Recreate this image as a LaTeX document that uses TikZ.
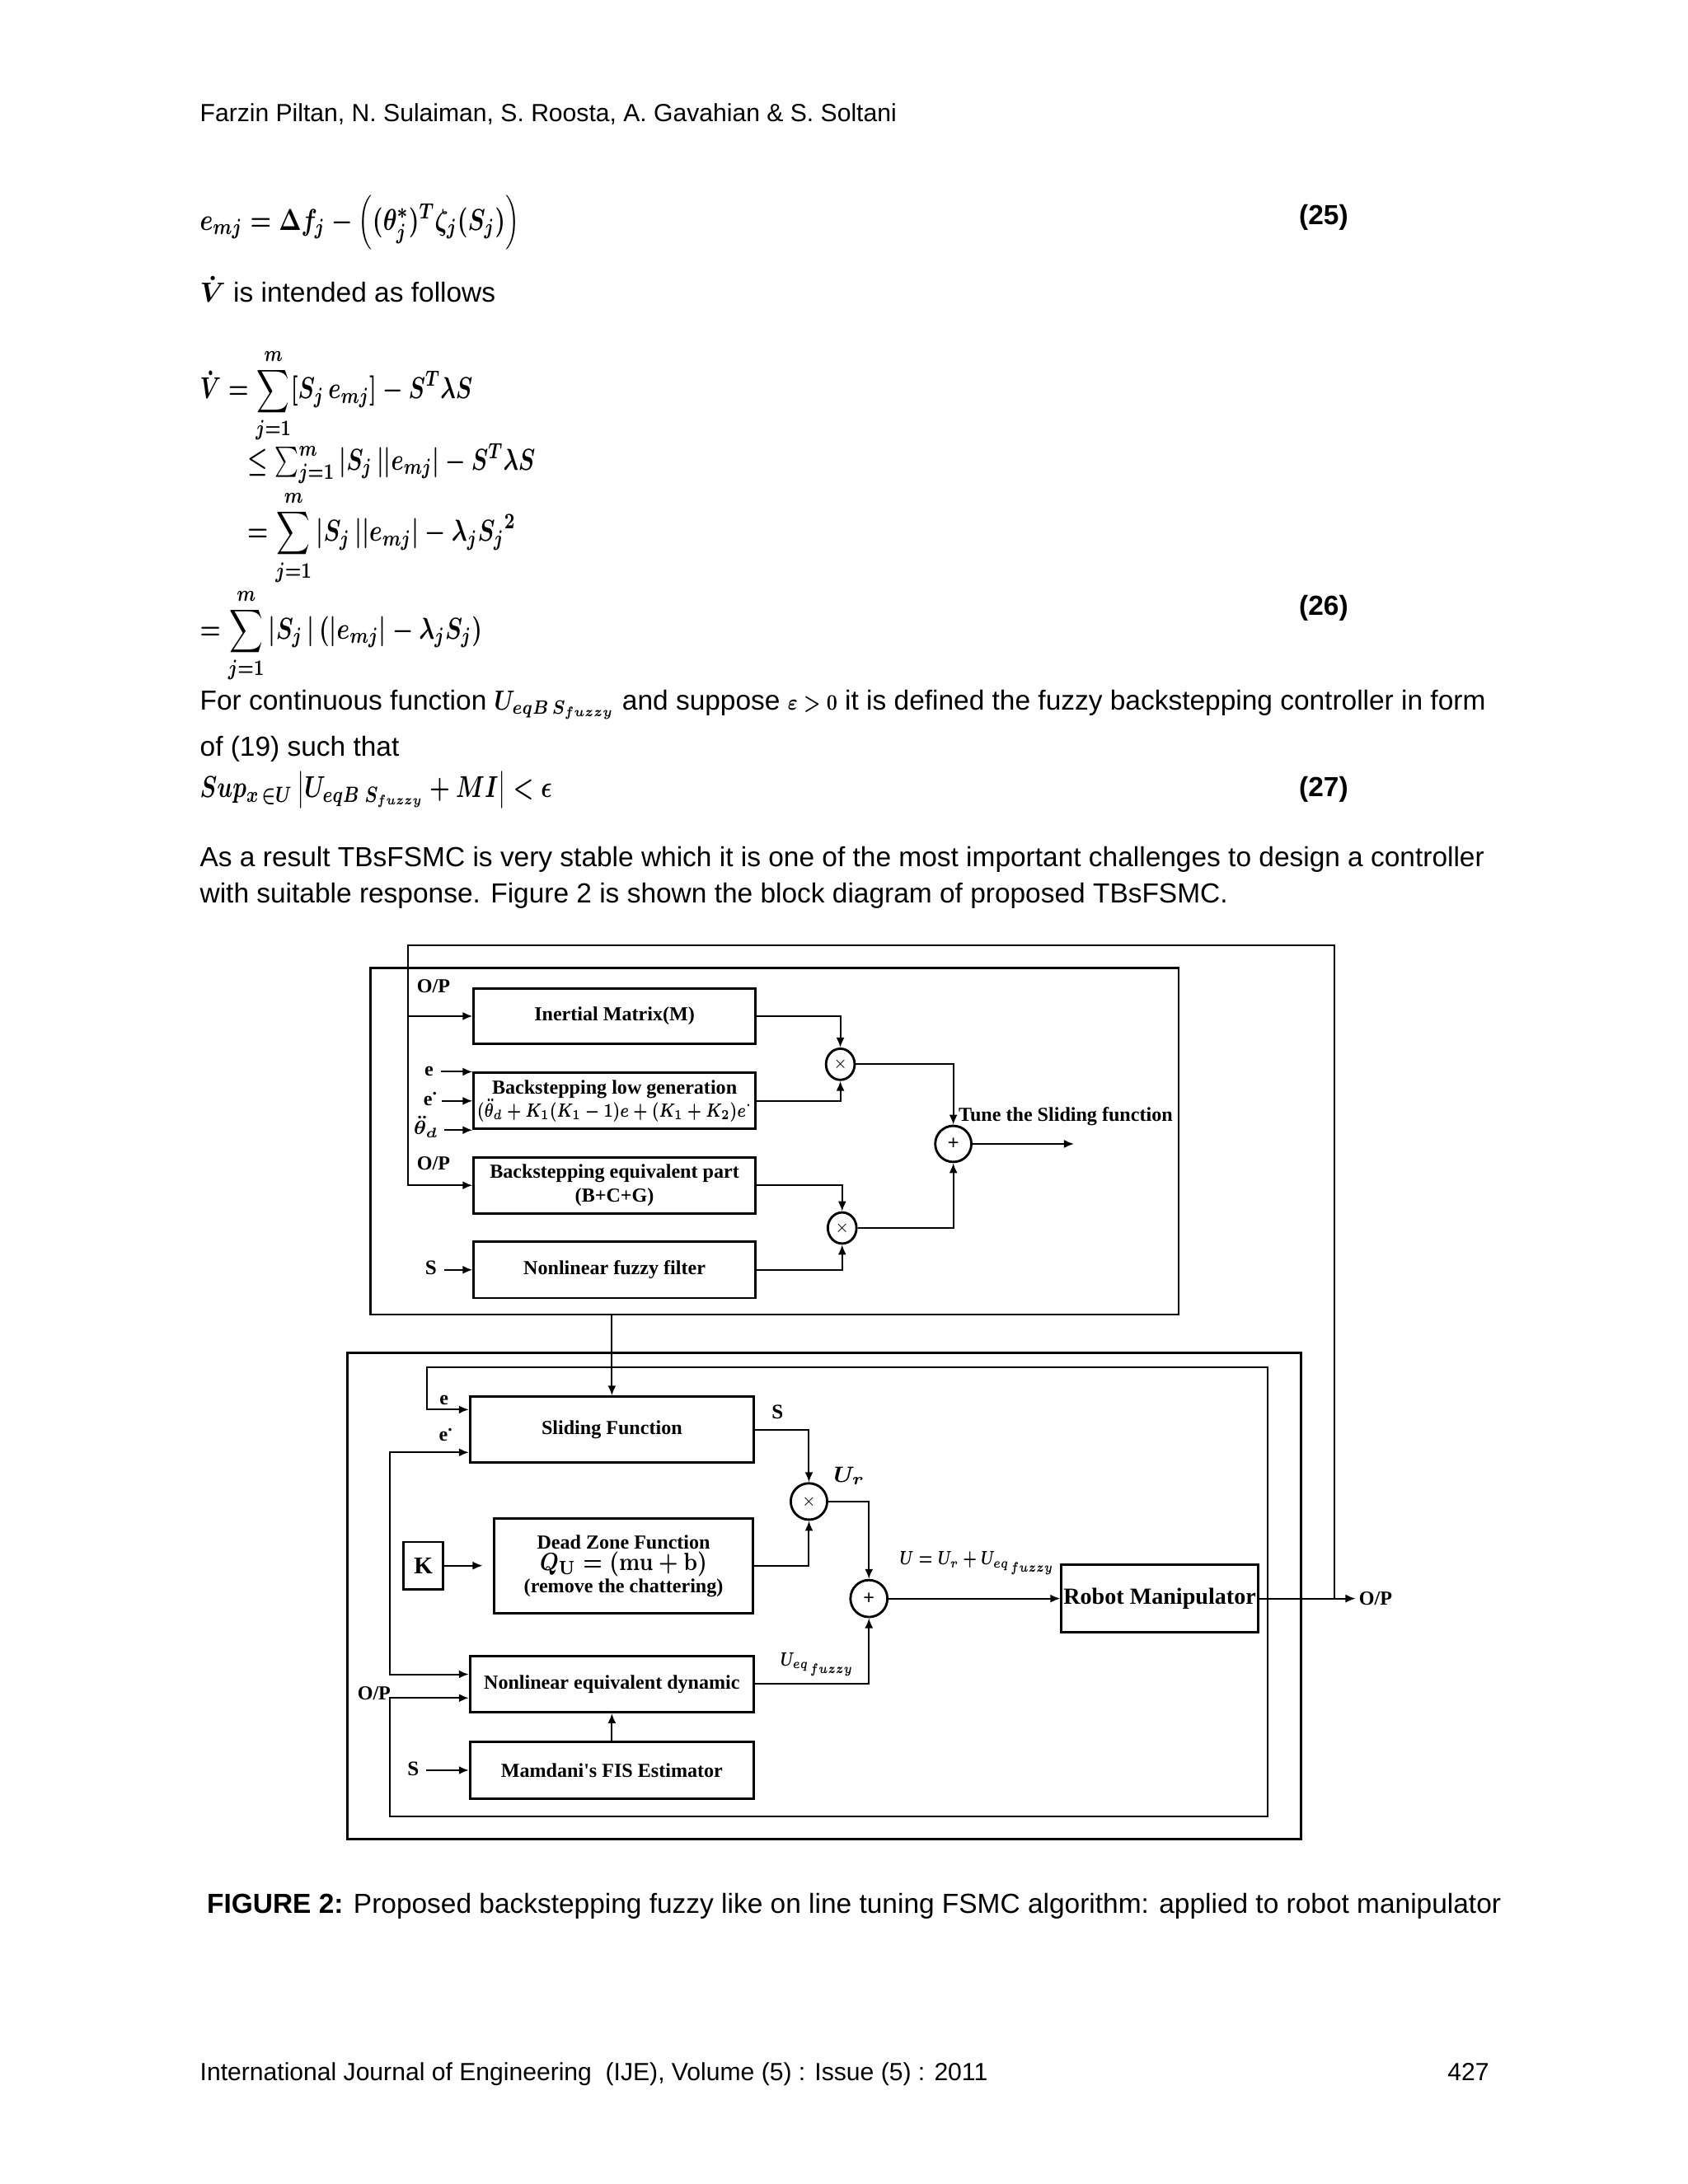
\documentclass[tikz,border=0pt]{standalone}
\usepackage{amsmath}
\usepackage[no-math]{fontspec}
\setmainfont{Liberation Sans}
\newfontfamily\tnr{Liberation Serif}
\usetikzlibrary{arrows.meta,shapes.geometric,calc}
\newcommand{\dgfont}{\fontsize{7.2}{8.9}\selectfont\tnr\bfseries}
\newcommand{\edot}{e\raisebox{1.1ex}{\scalebox{0.9}{.}}}
\newcommand{\eqA}{\scalebox{0.78}[1]{\boldmath$e_{mj} = \Delta f_j - \left((\theta_j^{*})^{T}\zeta_j(S_j)\right)$}}
\newcommand{\eqVt}{{\boldmath$\dot{V}$} is intended as follows}
\newcommand{\eqB}{\scalebox{0.75}[1]{\boldmath$\displaystyle \dot{V} = \sum_{j=1}^{m}[S_j\,e_{mj}] - S^{T}\lambda S$}}
\newcommand{\eqC}{\scalebox{0.75}[1]{\boldmath$\le \sum_{j=1}^{m}|S_j\,||e_{mj}| - S^{T}\lambda S$}}
\newcommand{\eqD}{\scalebox{0.77}[1]{\boldmath$\displaystyle = \sum_{j=1}^{m}|S_j\,||e_{mj}| - \lambda_j {S_j}^{2}$}}
\newcommand{\eqE}{\scalebox{0.77}[1]{\boldmath$\displaystyle = \sum_{j=1}^{m}|S_j\,|\left(|e_{mj}| - \lambda_j S_j\right)$}}
\newcommand{\parA}{For continuous function \scalebox{0.82}[1]{\boldmath$U_{eqB\,S_{fuzzy}}$} and suppose \scalebox{0.8}[1]{\fontsize{8.5}{10}\selectfont\boldmath$\varepsilon > 0$} it is defined the fuzzy backstepping controller in form}
\newcommand{\eqF}{\scalebox{0.76}[1]{\boldmath$Sup_{x\,\in U}\left|U_{eqB\;S_{fuzzy}} + MI\right| < \epsilon$}}
\newcommand{\lowgenF}{\scalebox{0.74}[1]{\fontsize{7.5}{8}\selectfont\boldmath$(\ddot{\theta}_d + K_1(K_1-1)e + (K_1+K_2)e^{\cdot}$}}
\newcommand{\thetaD}{{\boldmath$\ddot{\theta}_d$}}
\newcommand{\quF}{\scalebox{0.85}[1]{\fontsize{9.5}{10}\selectfont\boldmath$Q_{\mathrm{U}} = (\mathbf{mu} + \mathbf{b})$}}
\newcommand{\urF}{{\boldmath$U_r$}}
\newcommand{\uF}{\scalebox{0.72}[1]{\fontsize{7}{8}\selectfont\boldmath$U = U_r + U_{eq_{\,fuzzy}}$}}
\newcommand{\ueqF}{\scalebox{0.72}[1]{\fontsize{7}{8}\selectfont\boldmath$U_{eq_{\,fuzzy}}$}}
\tikzset{
  boxnode/.style={draw, line width=0.85pt, font=\dgfont, align=center, inner sep=0pt},
  panelnode/.style={draw, line width=0.85pt, inner sep=0pt},
  conn/.style={line width=0.6pt},
  arr/.style={conn, -{Latex[length=3.6pt,width=3pt]}},
  arrs/.style={conn, {Latex[length=3.6pt,width=3pt]}-{Latex[length=3.6pt,width=3pt]}},
  multnode/.style={draw, ellipse, line width=0.85pt, inner sep=0pt},
  lblnode/.style={font=\dgfont, inner sep=0pt},
  bodytext/.style={font=\fontsize{10}{12}\selectfont, inner sep=0pt, anchor=base west},
  eqtext/.style={font=\fontsize{11}{13}\selectfont, inner sep=0pt, anchor=base west},
  eqnum/.style={font=\fontsize{10}{12}\selectfont\bfseries, inner sep=0pt, anchor=base east},
}
\begin{document}
\begin{tikzpicture}[x=0.50578pt, y=-0.50578pt]
\fill[white] (0,0) rectangle (1210,1566);
\useasboundingbox (0,0) rectangle (1210,1566);

% ---------------- page text ----------------
\node[anchor=base west, inner sep=0pt, font=\fontsize{9}{11}\selectfont] (hdr) at (143,87) {Farzin Piltan, N. Sulaiman, S. Roosta, A. Gavahian \& S. Soltani};

\node[eqtext] (eq25) at (143,165) {\eqA};
\node[eqnum] (n25) at (967,161) {(25)};

\node[bodytext] (vtext) at (143,216.5) {\eqVt};

\node[eqtext] (eq26a) at (143,286) {\eqB};
\node[eqtext] (eq26b) at (177,337) {\eqC};
\node[eqtext] (eq26c) at (177,388) {\eqD};
\node[eqtext] (eq26d) at (143,458) {\eqE};
\node[eqnum] (n26) at (967,441) {(26)};

\node[bodytext] (p1) at (143,509) {\parA};
\node[bodytext] (p2) at (143,542) {of (19) such that};
\node[eqtext] (eq27) at (143,572) {\eqF};
\node[eqnum] (n27) at (967,571) {(27)};

\node[bodytext] (p3) at (143,621.5) {As a result TBsFSMC is very stable which it is one of the most important challenges to design a controller};
\node[bodytext] (p4) at (143,647.5) {with suitable response. Figure 2 is shown the block diagram of proposed TBsFSMC.};

\node[bodytext] (cap) at (148,1372) {\textbf{FIGURE 2:} Proposed backstepping fuzzy like on line tuning FSMC algorithm: applied to robot manipulator};

\node[anchor=base west, inner sep=0pt, font=\fontsize{9}{11}\selectfont] (foot) at (143,1492) {International Journal of Engineering\ \ (IJE), Volume (5) : Issue (5) : 2011};
\node[anchor=base east, inner sep=0pt, font=\fontsize{9}{11}\selectfont] (pg) at (1068,1492) {427};

% ---------------- top panel ----------------
\node[panelnode, minimum width=293.15pt, minimum height=125.6pt] (toppanel) at (555.2,818.4) {};

\node[boxnode, minimum width=102.1pt, minimum height=20.2pt] (inertial) at (440.6,728.6) {Inertial Matrix(M)};
\node[boxnode, minimum width=102.1pt, minimum height=20.3pt] (lowgen) at (440.6,789.4) {Backstepping low generation\\[-0.6pt]\lowgenF};
\node[boxnode, minimum width=102.1pt, minimum height=20.4pt] (equiv) at (440.6,849.9) {Backstepping equivalent part\\(B+C+G)};
\node[boxnode, minimum width=102.1pt, minimum height=20.5pt] (fuzzy) at (440.6,910.5) {Nonlinear fuzzy filter};

\node[multnode, minimum width=10.4pt, minimum height=11.3pt] (m1) at (602.5,763.1) {\fontsize{5}{5}\selectfont$\times$};
\node[multnode, minimum width=10.4pt, minimum height=11.3pt] (m2) at (603.8,880.5) {\fontsize{5}{5}\selectfont$\times$};
\node[multnode, minimum width=13.1pt, minimum height=13.1pt] (s1) at (683.5,820.2) {\fontsize{7}{7}\selectfont +};

\node[lblnode, anchor=base west] (tune) at (687,804) {Tune the Sliding function};
\coordinate (tuneEnd) at (770,820.2);

\node[lblnode] (op1) at (310.8,707) {O/P};
\node[lblnode] (op2) at (310.8,834) {O/P};
\node[lblnode] (le) at (307.6,768) {e};
\node[lblnode] (lde) at (308.5,788) {\edot};
\node[lblnode] (lth) at (305.5,808) {\thetaD};
\node[lblnode, font=\fontsize{7.5}{8}\selectfont\tnr\bfseries] (lS1) at (309,909) {S};

\draw[arr, shorten <=2.5pt] (le.east |- lowgen.north west) -- (lowgen.north west);
\draw[arr, shorten <=1.5pt] (lde.east |- lowgen.west) -- (lowgen.west);
\draw[arr, shorten <=2pt] (lth.east |- lowgen.south west) -- (lowgen.south west);
\draw[arr, shorten <=2.5pt] (lS1.east |- fuzzy.west) -- (fuzzy.west);

\draw[arr] (inertial.east) -| (m1.north);
\draw[arr] (lowgen.east) -| (m1.south);
\draw[arr] (equiv.east) -| (m2.north);
\draw[arr] (fuzzy.east) -| (m2.south);
\draw[arr] (m1.east) -| (s1.north);
\draw[arr] (m2.east) -| (s1.south);
\draw[arr] (s1.east) -- (tuneEnd);

% ---------------- bottom panel ----------------
\node[panelnode, minimum width=345.8pt, minimum height=176.4pt] (botpanel) at (590.75,1144.2) {};

\node[boxnode, minimum width=102.9pt, minimum height=23.8pt] (sliding) at (438.7,1025) {Sliding Function};
\node[boxnode, minimum width=94pt, minimum height=34.5pt] (deadzone) at (447.1,1122.7) {Dead Zone Function\\[-1pt]\quF\\[-1pt](remove the chattering)};
\node[boxnode, minimum width=14.2pt, minimum height=17.2pt, font=\fontsize{8.7}{9}\selectfont\tnr\bfseries] (kbox) at (303.5,1122.6) {K};
\node[boxnode, minimum width=102.9pt, minimum height=20.4pt] (nleq) at (438.7,1207.5) {Nonlinear equivalent dynamic};
\node[boxnode, minimum width=102.9pt, minimum height=20.5pt] (mamdani) at (438.7,1269.3) {Mamdani's FIS Estimator};
\node[boxnode, minimum width=71.3pt, minimum height=24.4pt, font=\fontsize{8.4}{9}\selectfont\tnr\bfseries] (robot) at (831.5,1146.2) {Robot Manipulator};

\node[multnode, minimum width=13.2pt, minimum height=13.2pt] (m3) at (580,1076.6) {\fontsize{5}{5}\selectfont$\times$};
\node[multnode, minimum width=13.4pt, minimum height=13.4pt] (s2) at (623,1146.2) {\fontsize{7}{7}\selectfont +};

\node[lblnode, font=\fontsize{7.5}{8}\selectfont\tnr\bfseries] (lS2) at (557.5,1012.5) {S};
\node[lblnode, font=\fontsize{8}{9}\selectfont] (lUr) at (608.9,1058.4) {\urF};
\node[lblnode, anchor=base west] (lU) at (644.7,1122) {\uF};
\node[lblnode] (lUeq) at (586,1193.5) {\ueqF};
\node[lblnode] (le2) at (318.3,1004) {e};
\node[lblnode] (lde2) at (319.5,1029) {\edot};
\node[lblnode] (op3) at (268.2,1214) {O/P};
\node[lblnode, font=\fontsize{7.5}{8}\selectfont\tnr\bfseries] (lS3) at (296.2,1268.6) {S};
\coordinate (opOut) at (971.8,1146.2);
\node[lblnode, anchor=west] (op4) at (974,1146.2) {O/P};

% loop coordinates
\coordinate (lTL) at (306.3,980.5);
\coordinate (lBR) at (909.1,1302.7);
\coordinate (lBL) at (279.7,1302.7);
\coordinate (slA) at ([yshift=7.23pt]sliding.west);
\coordinate (slB) at ([yshift=-8.3pt]sliding.west);
\coordinate (nlA) at ([yshift=3.54pt]nleq.west);
\coordinate (nlB) at ([yshift=-5.06pt]nleq.west);

\draw[arrs] (slA) -| (lTL) -| (lBR) -| (lBL) |- (nlB);
\draw[arrs] (slB) -| (lBL |- nlA) -- (nlA);

\draw[arr] (sliding.east) -| (m3.north);
\draw[arr] (deadzone.east) -| (m3.south);
\draw[arr] (m3.east) -| (s2.north);
\draw[arr] (nleq.east) -| (s2.south);
\draw[arr] (s2.east) -- (robot.west);
\draw[arr] (mamdani.north) -- (nleq.south);
\draw[arr, shorten >=3.7pt] (kbox.east) -- (deadzone.west |- kbox.east);
\draw[arr, shorten <=2.5pt] (lS3.east |- mamdani.west) -- (mamdani.west);
\draw[arr] (robot.east) -- (opOut);

% ---------------- outer feedback frame ----------------
\coordinate (fbL) at (292.8,678);
\coordinate (fbR) at (956.5,678);
\draw[arr] (robot.east -| fbR) -- (fbR) -- (fbL) |- (equiv.west);
\draw[arr] (fbL |- inertial.west) -- (inertial.west);
\draw[arr] (sliding.north |- toppanel.south) -- (sliding.north);
\end{tikzpicture}
\end{document}
